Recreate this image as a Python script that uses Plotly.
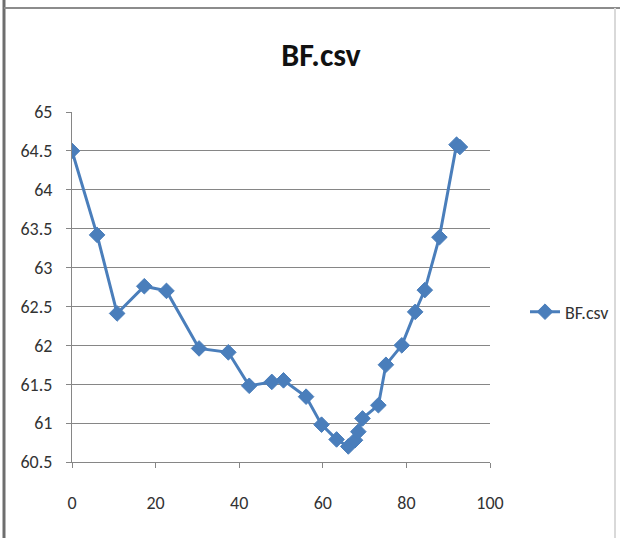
import plotly.graph_objects as go

# BF.csv measurements
x_vals = [0.0, 6.0, 10.8, 17.3, 22.6, 30.4, 37.4, 42.4, 47.8, 50.6, 56.0, 59.7,
          63.3, 66.1, 67.7, 68.5, 69.5, 73.3, 75.1, 78.9, 82.1, 84.4, 87.9, 92.0, 92.8]
y_vals = [64.50, 63.42, 62.41, 62.76, 62.70, 61.96, 61.91, 61.48, 61.53, 61.55, 61.34, 60.98,
          60.79, 60.70, 60.78, 60.89, 61.06, 61.23, 61.75, 62.00, 62.43, 62.71, 63.39, 64.58, 64.55]
series_name = "BF.csv"
y_ticks = [60.5, 61, 61.5, 62, 62.5, 63, 63.5, 64, 64.5, 65]
x_ticks = [0, 20, 40, 60, 80, 100]

W, H = 620, 538
L, R, T, B = 72, 130, 112, 76
pw, ph = W - L - R, H - T - B

def px_x(p):
    return (p - L) / pw

def px_y(p):
    return (H - B - p) / ph

blue = "#4A7EBB"
axis_gray = "#868686"
text_font = "Carlito, Liberation Sans, Arial, sans-serif"

fig = go.Figure()
fig.add_trace(go.Scatter(
    x=x_vals, y=y_vals, name=series_name, mode="lines+markers",
    line=dict(color=blue, width=3),
    marker=dict(symbol="diamond", size=12, color=blue, line=dict(color=blue, width=1)),
    showlegend=True,
))

fig.update_layout(
    width=W, height=H,
    margin=dict(l=L, r=R, t=T, b=B),
    paper_bgcolor="white", plot_bgcolor="white",
    font=dict(family=text_font, size=18, color="#333333"),
    title=dict(text="<b>BF.csv</b>", x=321 / W, xanchor="center", xref="container",
               y=1 - 55 / H, yanchor="middle", yref="container",
               font=dict(family=text_font, size=32, color="#111111")),
    xaxis=dict(range=[0, 100], tickvals=x_ticks, showgrid=False, zeroline=False,
               showline=True, linecolor=axis_gray, linewidth=1,
               ticks="outside", ticklen=5, tickcolor=axis_gray,
               ticklabelstandoff=19, tickfont=dict(size=18, color="#333333")),
    yaxis=dict(range=[60.5, 65], tickvals=y_ticks, showgrid=True, gridcolor=axis_gray,
               gridwidth=1, zeroline=False, showline=True, linecolor=axis_gray, linewidth=1,
               ticks="outside", ticklen=5, tickcolor=axis_gray,
               ticklabelstandoff=10, tickfont=dict(size=18, color="#333333")),
    legend=dict(xref="container", x=525 / W, xanchor="left",
                yref="container", y=1 - 312 / H, yanchor="middle",
                bgcolor="rgba(0,0,0,0)", font=dict(size=18, color="#333333"),
                itemwidth=30),
)

# chart-area frame: heavy left edge, top edge, faint right edge
frame = [
    dict(x0=4, x1=4, y0=0, y1=540, color="#6e6e6e", width=3),
    dict(x0=4, x1=620, y0=8, y1=8, color="#8c8c8c", width=2),
    dict(x0=615, x1=615, y0=8, y1=540, color="#d9d9d9", width=2),
]
for f in frame:
    fig.add_shape(type="line", xref="paper", yref="paper",
                  x0=px_x(f["x0"]), x1=px_x(f["x1"]), y0=px_y(f["y0"]), y1=px_y(f["y1"]),
                  line=dict(color=f["color"], width=f["width"]), layer="below")

fig.write_html("out.html")
